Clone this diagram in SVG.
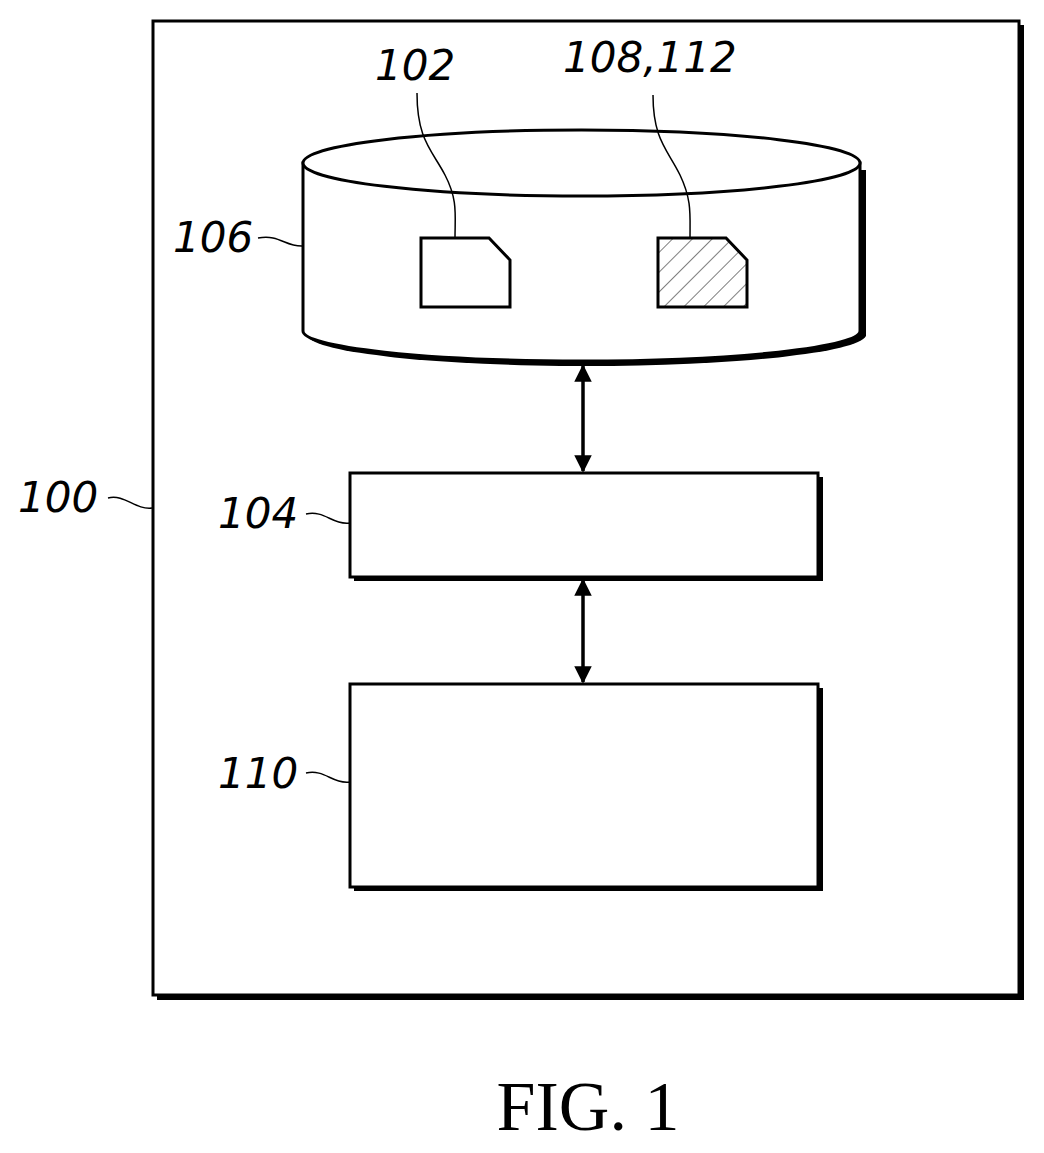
<svg xmlns="http://www.w3.org/2000/svg" width="1044" height="1153" viewBox="0 0 1044 1153">
<defs>
<style>
.lbl{font-family:"DejaVu Sans",sans-serif;font-style:italic;font-size:42px;fill:#000}
.ln{fill:none;stroke:#000;stroke-width:1.5}
.box{fill:#fff;stroke:#000;stroke-width:3}
.sh{fill:#000}
</style>
<pattern id="hatch" patternUnits="userSpaceOnUse" width="14" height="14" patternTransform="rotate(45)">
<line x1="0" y1="0" x2="0" y2="14" stroke="#000" stroke-width="1"/>
</pattern>
<marker id="ah" viewBox="0 0 10 10" refX="9" refY="5" markerWidth="5" markerHeight="6" orient="auto-start-reverse">
<path d="M0,0 L10,5 L0,10 z" fill="#000"/>
</marker>
</defs>
<g id="n100">
<rect x="157" y="25" width="867" height="975" class="sh"/>
<rect x="153" y="21" width="866" height="974" class="box"/>
<text x="18" y="512" class="lbl">100</text>
<path class="ln" d="M108,498 C125,494 135,510 152,508"/>
</g>
<g id="n106">
<path class="sh" d="M307,170 L866,170 L866,336 A280,32 0 0 1 307,336 Z"/>
<path class="box" d="M303,163 L860,163 L860,331 A278.5,30 0 0 1 303,331 Z"/>
<ellipse cx="581.5" cy="163" rx="278.5" ry="33" class="box"/>
<text x="173" y="252" class="lbl">106</text>
<path class="ln" d="M258,238 C280,234 285,247 303,246"/>
</g>
<g id="n102">
<path class="box" d="M421,238 L489,238 L510,260 L510,307 L421,307 Z"/>
<text x="375" y="80" class="lbl">102</text>
<path class="ln" d="M417,93 C417,140 432,150 445,175 C458,200 455,215 455,238"/>
</g>
<g id="n108">
<path d="M658,238 L726,238 L747,260 L747,307 L658,307 Z" fill="url(#hatch)" stroke="#000" stroke-width="3"/>
<text x="563" y="72" class="lbl">108,112</text>
<path class="ln" d="M653,95 C653,140 668,150 680,175 C692,200 690,215 690,238"/>
</g>
<g id="n104">
<rect x="354" y="477" width="469" height="104" class="sh"/>
<rect x="350" y="473" width="468" height="104" class="box"/>
<text x="218" y="528" class="lbl">104</text>
<path class="ln" d="M306,514 C325,510 332,525 350,523"/>
</g>
<g id="n110">
<rect x="354" y="688" width="469" height="203" class="sh"/>
<rect x="350" y="684" width="468" height="203" class="box"/>
<text x="218" y="788" class="lbl">110</text>
<path class="ln" d="M306,773 C325,769 332,784 350,782"/>
</g>
<g id="connectors" stroke="#000" stroke-width="3.5" fill="none">
<line x1="583" y1="366" x2="583" y2="471" marker-start="url(#ah)" marker-end="url(#ah)"/>
<line x1="583" y1="580" x2="583" y2="682" marker-start="url(#ah)" marker-end="url(#ah)"/>
</g>
<text x="588" y="1130" text-anchor="middle" font-family="Liberation Serif,serif" font-size="70">FIG. 1</text>
</svg>
